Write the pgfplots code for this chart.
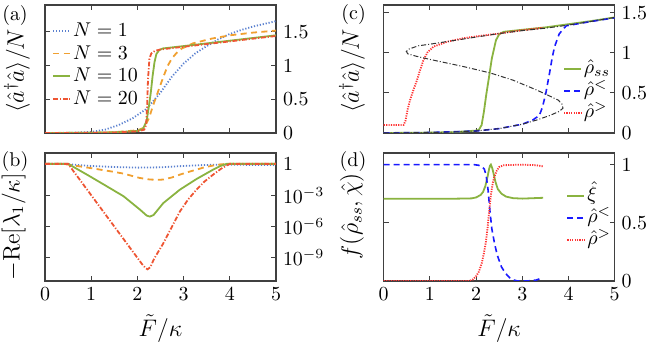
\documentclass[border=0pt]{standalone}
\usepackage{pgfplots}
\pgfplotsset{compat=1.18}
\definecolor{cA}{HTML}{5A80CF}
\definecolor{cB}{HTML}{F0A030}
\definecolor{cC}{HTML}{8AB340}
\definecolor{cD}{HTML}{EE5533}
\definecolor{pblue}{HTML}{1A1AFF}
\definecolor{pred}{HTML}{FF3333}
\begin{document}
\begin{tikzpicture}[x=1bp,y=1bp]
\useasboundingbox (0,0) rectangle (332,173);
\pgfplotsset{
  myax/.style={
    scale only axis, width=115.5bp, height=64bp,
    xmin=0, xmax=5, xtick={0,1,2,3,4,5},
    tick align=inside, major tick length=2.5bp,
    yticklabel pos=right,
    axis line style={line width=0.6bp, black!75},
    every tick/.style={black!75, line width=0.5bp},
    label style={font=\large},
    legend cell align=left,
    legend image code/.code={\draw[##1] (0bp,0bp) -- (8.5bp,0bp);},
  },
  lA/.style={cA, line width=0.9bp, dash pattern=on 0.6bp off 0.9bp},
  lB/.style={cB, line width=0.9bp, dash pattern=on 3bp off 2.2bp},
  lC/.style={cC, line width=0.9bp},
  lD/.style={cD, line width=0.9bp, dash pattern=on 2.4bp off 0.9bp on 0.6bp off 0.9bp},
  lG/.style={cC, line width=0.9bp},
  lBl/.style={pblue, line width=0.8bp, dash pattern=on 3bp off 2bp},
  lR/.style={pred, line width=0.9bp, dash pattern=on 0.6bp off 0.6bp},
}
% ---------- (a)
\begin{axis}[myax, at={(22.5bp,106.5bp)}, anchor=south west,
  ymin=0, ymax=1.9, ytick={0,0.5,1,1.5}, xticklabels={},
  legend style={draw=none, fill=none, at={(0.03,0.882)}, anchor=north west,
    row sep=0.8bp, inner sep=0pt, nodes={inner sep=1bp, text height=7bp, text depth=1.5bp}},
]
\addplot[lA] coordinates {(0,0) (0.5,0.002) (1.0,0.015) (1.3,0.05) (1.6,0.12) (1.9,0.22) (2.2,0.36) (2.5,0.6) (2.75,0.84) (3.0,1.03) (3.25,1.18) (3.5,1.29) (3.75,1.39) (4.0,1.47) (4.25,1.53) (4.5,1.58) (4.75,1.62) (5,1.66)};
\addlegendentry{$N=1$}
\addplot[lB] coordinates {(0,0) (1,0.005) (1.5,0.012) (2.0,0.04) (2.15,0.08) (2.25,0.22) (2.35,0.43) (2.45,0.62) (2.55,0.81) (2.65,0.99) (2.75,1.11) (2.85,1.19) (2.95,1.25) (3.2,1.33) (3.6,1.40) (4.0,1.45) (4.5,1.49) (5,1.52)};
\addlegendentry{$N=3$}
\addplot[lC] coordinates {(0,0) (1,0.003) (1.5,0.01) (2.0,0.03) (2.12,0.06) (2.2,0.18) (2.25,0.4) (2.29,0.6) (2.33,0.85) (2.37,1.05) (2.41,1.17) (2.47,1.23) (2.55,1.255) (3.0,1.29) (3.5,1.33) (4.0,1.37) (4.5,1.41) (5,1.45)};
\addlegendentry{$N=10$}
\addplot[lD] coordinates {(0,0) (1,0.002) (1.5,0.008) (2.0,0.025) (2.15,0.05) (2.19,0.12) (2.21,0.4) (2.23,0.8) (2.26,1.1) (2.3,1.18) (2.38,1.22) (2.5,1.24) (3.0,1.28) (3.5,1.32) (4.0,1.36) (4.5,1.40) (5,1.44)};
\addlegendentry{$N=20$}
\end{axis}
% ---------- (b)
\begin{axis}[myax, at={(22.5bp,32.5bp)}, anchor=south west,
  ymode=log, ymin=6e-12, ymax=11,
  ytick={1e-9,1e-6,1e-3,1}, yticklabels={$10^{-9}$,$10^{-6}$,$10^{-3}$,$1$},
  minor ytick={}, 
  xlabel={$\tilde F/\kappa$},
]
\addplot[lA] coordinates {(0,1) (0.4,1) (0.7,0.794) (1.0,0.631) (1.5,0.501) (2.0,0.437) (2.5,0.468) (3.0,0.631) (3.5,0.794) (4.0,0.832) (5,0.759)};
\addplot[lB] coordinates {(0,1) (0.4,1) (0.97,0.407) (1.4,0.2) (1.7,0.117) (1.84,0.0794) (2.05,0.0447) (2.27,0.0316) (2.45,0.0295) (2.56,0.0316) (2.75,0.0501) (2.92,0.0933) (3.1,0.166) (3.28,0.282) (3.45,0.468) (3.64,0.692) (3.8,0.891) (3.93,1) (5,1)};
\addplot[lC] coordinates {(0,1) (0.5,1) (0.6,0.562) (0.97,0.0646) (1.3,8.91e-3) (1.7,7.94e-4) (2.06,3.98e-5) (2.2,1.12e-5) (2.27,8.91e-6) (2.35,1.26e-5) (2.56,1.74e-4) (2.92,3.39e-3) (3.28,0.0355) (3.64,0.282) (3.8,0.631) (3.93,1) (5,1)};
\addplot[lD] coordinates {(0,1) (0.5,1) (0.55,0.501) (1.0,1e-3) (1.5,1e-6) (2.0,1e-9) (2.1,2.51e-10) (2.18,1e-10) (2.22,7.94e-11) (2.28,1.26e-10) (2.35,6.31e-10) (2.4,1.58e-9) (2.56,2.40e-8) (2.75,1e-6) (2.92,2.75e-5) (3.1,3.98e-4) (3.28,3.39e-3) (3.45,0.02) (3.64,0.0933) (3.8,0.316) (3.93,0.692) (4.0,1) (5,1)};
\end{axis}
% ---------- (c)
\begin{axis}[myax, at={(191.85bp,106.5bp)}, anchor=south west,
  ymin=0, ymax=1.6, ytick={0,0.5,1,1.5}, xticklabels={},
  legend style={draw=none, fill=none, at={(0.775,0.59)}, anchor=north west,
    row sep=0bp, inner sep=0pt, nodes={inner sep=1bp, text height=7bp, text depth=2bp}},
]
\addplot[lG] coordinates {(0,0) (1.0,0.005) (1.5,0.01) (2.0,0.03) (2.06,0.04) (2.12,0.1) (2.17,0.27) (2.22,0.48) (2.28,0.7) (2.34,0.93) (2.43,1.16) (2.5,1.235) (2.6,1.265) (3.0,1.29) (3.5,1.32) (4.0,1.36) (4.5,1.40) (5,1.445)};
\addlegendentry{$\hat\rho_{ss}$}
\addplot[lBl] coordinates {(0,0) (1,0.006) (2,0.025) (2.5,0.055) (3.0,0.11) (3.22,0.16) (3.37,0.22) (3.44,0.33) (3.51,0.5) (3.59,0.75) (3.65,0.95) (3.70,1.08) (3.8,1.24) (3.95,1.34) (4.5,1.395) (5,1.44)};
\addlegendentry{$\hat\rho^{<}$}
\addplot[lR] coordinates {(0,0.1) (0.43,0.1) (0.47,0.15) (0.52,0.3) (0.57,0.41) (0.65,0.55) (0.72,0.66) (0.79,0.79) (0.86,0.91) (0.95,1.01) (1.08,1.08) (1.37,1.14) (1.73,1.185) (2.1,1.215) (2.46,1.24) (3.0,1.285) (3.45,1.315)};
\addlegendentry{$\hat\rho^{>}$}
\addplot[black!80, line width=0.5bp, dash pattern=on 2.5bp off 1bp on 0.5bp off 1bp, forget plot] coordinates {(0,0) (1.0,0.006) (1.5,0.012) (2.0,0.025) (2.5,0.055) (3.0,0.11) (3.3,0.16) (3.6,0.22) (3.8,0.27) (3.88,0.31) (3.86,0.36) (3.78,0.41) (3.6,0.46) (3.3,0.54) (2.8,0.66) (2.31,0.75) (1.73,0.83) (1.0,0.92) (0.7,0.96) (0.52,0.99) (0.49,1.02) (0.55,1.05) (0.75,1.09) (1.0,1.11) (1.73,1.175) (2.46,1.24) (3.0,1.28) (3.5,1.31) (3.95,1.345) (4.5,1.395) (5,1.445)};
\end{axis}
% ---------- (d)
\begin{axis}[myax, at={(191.85bp,32.5bp)}, anchor=south west,
  ymin=0, ymax=1.1, ytick={0,0.5,1},
  xlabel={$\tilde F/\kappa$},
  legend style={draw=none, fill=none, at={(0.79,0.755)}, anchor=north west,
    row sep=0bp, inner sep=0pt, nodes={inner sep=1bp, text height=7bp, text depth=2bp}},
]
\addplot[lG] coordinates {(0,0.707) (1.5,0.707) (1.9,0.71) (2.0,0.718) (2.1,0.74) (2.15,0.765) (2.2,0.815) (2.25,0.9) (2.28,0.96) (2.3,0.99) (2.32,1.0) (2.35,0.97) (2.38,0.92) (2.42,0.85) (2.47,0.79) (2.55,0.75) (2.65,0.725) (2.8,0.712) (3.0,0.708) (3.45,0.715)};
\addlegendentry{$\hat\xi$}
\addplot[lBl] coordinates {(0,1) (1.95,1) (2.05,0.995) (2.12,0.985) (2.18,0.96) (2.22,0.9) (2.26,0.78) (2.3,0.6) (2.34,0.45) (2.4,0.32) (2.46,0.22) (2.55,0.12) (2.64,0.065) (2.72,0.03) (2.8,0.01) (2.9,0.0) (3.1,0.0) (3.3,0.008) (3.45,0.03)};
\addlegendentry{$\hat\rho^{<}$}
\addplot[lR] coordinates {(0,0) (1.85,0.0) (1.92,0.01) (2.0,0.04) (2.06,0.08) (2.12,0.15) (2.17,0.24) (2.21,0.33) (2.25,0.46) (2.28,0.59) (2.32,0.74) (2.36,0.84) (2.39,0.89) (2.45,0.95) (2.5,0.98) (2.6,0.995) (3.0,1.0) (3.3,0.995) (3.45,0.985)};
\addlegendentry{$\hat\rho^{>}$}
\end{axis}
\node[font=\large, rotate=90] at (8.5,137.6) {$\langle \hat a^{\dagger}\hat a\rangle/N$};
\node[font=\large, rotate=90] at (6.8,59.6) {$-\mathrm{Re}[\lambda_1/\kappa]$};
\node[font=\large, rotate=90] at (176,137.6) {$\langle \hat a^{\dagger}\hat a\rangle/N$};
\node[font=\large, rotate=90] at (176,65) {$f(\hat\rho_{ss},\hat\chi)$};
\node[font=\normalsize] at (7.5,165.3) {(a)};
\node[font=\normalsize] at (7.5,92) {(b)};
\node[font=\normalsize] at (176.8,165.8) {(c)};
\node[font=\normalsize] at (176.5,92) {(d)};
\end{tikzpicture}
\end{document}
